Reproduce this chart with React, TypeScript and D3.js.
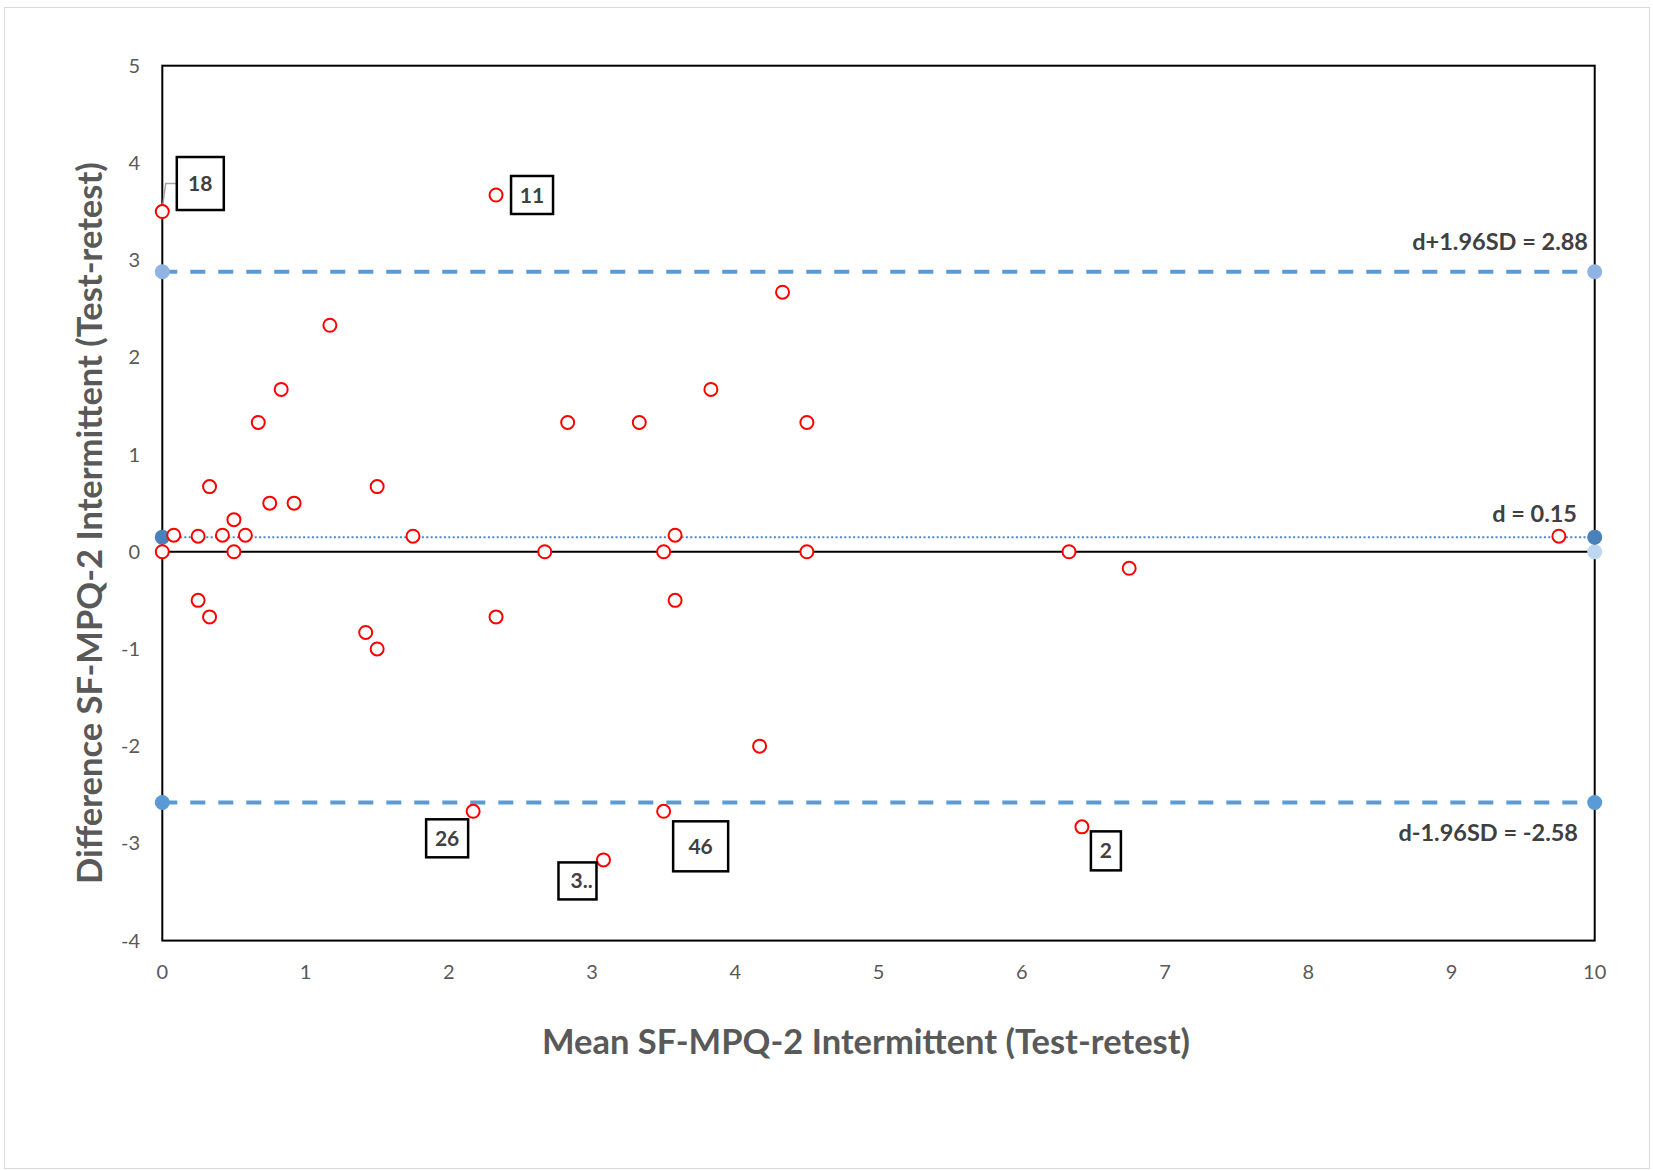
import React from "react";
import * as d3 from "d3";

// Bland-Altman points: mean of test/retest vs difference
const means = [
  0, 2.33, 4.33, 1.17, 0.83, 3.83, 0.67, 2.83, 3.33, 4.5, 0.33, 1.5, 0.75,
  0.92, 0.5, 0.08, 0.25, 0.42, 0.58, 1.75, 3.58, 9.75, 0, 0.5, 2.67, 3.5, 4.5,
  6.33, 6.75, 0.25, 0.33, 2.33, 3.58, 1.42, 1.5, 4.17, 2.17, 3.5, 3.08, 6.42,
];
const diffs = [
  3.5, 3.67, 2.67, 2.33, 1.67, 1.67, 1.33, 1.33, 1.33, 1.33, 0.67, 0.67, 0.5,
  0.5, 0.33, 0.17, 0.16, 0.17, 0.17, 0.16, 0.17, 0.16, 0, 0, 0, 0, 0, 0, -0.17,
  -0.5, -0.67, -0.67, -0.5, -0.83, -1, -2, -2.67, -2.67, -3.17, -2.83,
];

const meanDiff = 0.15;
const upperLoA = 2.88;
const lowerLoA = -2.58;

const xTicks = [0, 1, 2, 3, 4, 5, 6, 7, 8, 9, 10];
const yTicks = [-4, -3, -2, -1, 0, 1, 2, 3, 4, 5];

// point labels (index into the arrays above) and where the boxes sit
const pointLabels = [
  { idx: 0, text: "18", dx: 38, dy: -28, w: 47, h: 53 },
  { idx: 1, text: "11", dx: 36, dy: 0, w: 42, h: 38 },
  { idx: 36, text: "26", dx: -26, dy: 27, w: 42, h: 38 },
  { idx: 37, text: "46", dx: 37, dy: 35, w: 55, h: 50 },
  { idx: 38, text: "3..", dx: -26, dy: 21, w: 38, h: 37 },
  { idx: 39, text: "2", dx: 24, dy: 24, w: 30, h: 39 },
];

const W = 1653;
const H = 1170;
const font = "Lato, 'Open Sans', sans-serif";
const grey = "#595959";

const App = () => {
  const x = d3.scaleLinear().domain([0, 10]).range([162.3, 1594.7]);
  const y = d3.scaleLinear().domain([-4, 5]).range([940.6, 65.7]);

  const points = means.map((m, i) => ({ m, d: diffs[i] }));

  const hline = (v: number) =>
    d3.line<number>().x((d) => x(d)).y(() => y(v))([0, 10]) as string;

  const p18 = points[0];

  return (
    <svg
      width={W}
      height={H}
      style={{ position: "absolute", left: 0, top: 0, background: "#fff" }}
      fontFamily={font}
    >
      <rect x={4.5} y={7.5} width={1645} height={1161} fill="#fff" stroke="#d9d9d9" strokeWidth={1} />

      {/* plot frame */}
      <rect
        x={x(0)}
        y={y(5)}
        width={x(10) - x(0)}
        height={y(-4) - y(5)}
        fill="none"
        stroke="#000"
        strokeWidth={2}
      />
      <path d={hline(0)} stroke="#000" strokeWidth={2} fill="none" />

      {/* y tick labels */}
      {yTicks.map((t) => (
        <text key={"y" + t} x={140} y={y(t)} dy="0.35em" textAnchor="end" fontSize={20} fill={grey}>
          {t}
        </text>
      ))}
      {/* x tick labels */}
      {xTicks.map((t) => (
        <text key={"x" + t} x={x(t)} y={979} textAnchor="middle" fontSize={20} fill={grey}>
          {t}
        </text>
      ))}

      {/* limits of agreement */}
      <path d={hline(upperLoA)} stroke="#5b9bd5" strokeWidth={4} strokeDasharray="15 13" fill="none" />
      <path d={hline(lowerLoA)} stroke="#5b9bd5" strokeWidth={4} strokeDasharray="15 13" fill="none" />
      <path d={hline(meanDiff)} stroke="#4f86c6" strokeWidth={2} strokeDasharray="2 2.4" fill="none" />

      <circle cx={x(10)} cy={y(0)} r={7.5} fill="#bdd7ee" />
      {[0, 10].map((v) => (
        <g key={"m" + v}>
          <circle cx={x(v)} cy={y(upperLoA)} r={7.5} fill="#8fb4e3" />
          <circle cx={x(v)} cy={y(lowerLoA)} r={7.5} fill="#5b9bd5" />
          <circle cx={x(v)} cy={y(meanDiff)} r={7.5} fill="#4a81bd" />
        </g>
      ))}

      <g fontSize={23.5} fontWeight="bold" fill="#404040" textAnchor="end">
        <text x={1588} y={250}>d+1.96SD = 2.88</text>
        <text x={1577} y={522}>d = 0.15</text>
        <text x={1578} y={841}>d-1.96SD = -2.58</text>
      </g>

      {/* leader for label 18 */}
      <polyline
        points={`${x(p18.m)},${y(p18.d) - 3} ${x(p18.m) + 3.4},${y(p18.d) - 28} ${x(p18.m) + 15},${y(p18.d) - 28}`}
        fill="none"
        stroke="#a6a6a6"
        strokeWidth={1.5}
      />

      {/* data points */}
      {points.map((p, i) => (
        <circle key={i} cx={x(p.m)} cy={y(p.d)} r={6.5} fill="#fff" stroke="#ff0000" strokeWidth={2} />
      ))}

      {/* point labels */}
      {pointLabels.map((l) => {
        const cx = x(means[l.idx]) + l.dx;
        const cy = y(diffs[l.idx]) + l.dy;
        return (
          <g key={l.text}>
            <rect
              x={cx - l.w / 2}
              y={cy - l.h / 2}
              width={l.w}
              height={l.h}
              fill="#fff"
              stroke="#000"
              strokeWidth={2.5}
            />
            <text
              x={l.text === "3.." ? cx - l.w / 2 + 12 : cx}
              y={cy}
              dy="0.36em"
              textAnchor={l.text === "3.." ? "start" : "middle"}
              fontSize={21}
              fontWeight="bold"
              fill="#404040"
            >
              {l.text}
            </text>
          </g>
        );
      })}

      {/* axis titles */}
      <text x={866} y={1054} textAnchor="middle" fontSize={34.5} fontWeight="bold" fill={grey}>
        Mean SF-MPQ-2 Intermittent (Test-retest)
      </text>
      <text
        transform={`translate(102, ${y(0.5) + 20}) rotate(-90)`}
        textAnchor="middle"
        fontSize={34.5}
        fontWeight="bold"
        fill={grey}
      >
        Difference SF-MPQ-2 Intermittent (Test-retest)
      </text>
    </svg>
  );
};

export default App;
